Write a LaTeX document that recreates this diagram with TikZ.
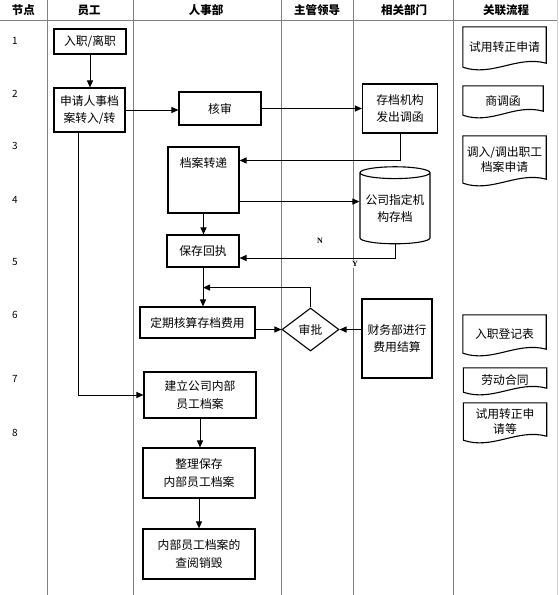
\documentclass[tikz,border=0pt]{standalone}
\usepackage{fontspec}
\setmainfont{Noto Sans CJK SC}
\newfontfamily\latinfont{Liberation Serif}
\usepackage{xcolor}
\usetikzlibrary{calc,shapes.geometric,arrows.meta}
\definecolor{lanegray}{RGB}{128,128,128}

% document shape with a wavy bottom edge, drawn round a node
\newcommand\wavedoc[1]{\draw[line width=1.1pt] (#1.south west) -- (#1.north west) -- (#1.north east) -- ($(#1.south east)+(0,-4)$) .. controls ($(#1.south east)+(-29,-12)$) and ($(#1.south west)+(29,10)$) .. (#1.south west);}

\begin{document}
\begin{tikzpicture}[x=1pt,y=-1pt]
\tikzset{box/.style={draw, line width=1.1pt, align=center, inner sep=0pt, font=\fontsize{11.8}{17.5}\selectfont},
  hd/.style={font=\fontsize{11.5}{14}\selectfont\bfseries},
  num/.style={font=\fontsize{10}{12}\selectfont},
  doc/.style={align=center, inner sep=0pt, minimum width=83pt, font=\fontsize{11.8}{15.5}\selectfont},
  yn/.style={font=\latinfont\bfseries\fontsize{8}{10}\selectfont, inner sep=1pt},
  arr/.style={line width=1pt, -{Triangle[length=7pt,width=6pt]}},
  lane/.style={draw=lanegray, line width=0.9pt}};
\useasboundingbox (0,0) rectangle (558,595);
% lanes
\draw[lane] (0,20) -- (558,20);
\foreach \x in {47,133,281,353,453} \draw[lane] (\x,0) -- (\x,595);
\draw[lane, draw=lanegray!35] (557,0) -- (557,595);
% header
\node [hd] (h1) at (23.5,10) {节点};
\node [hd] (h2) at (89,10) {员工};
\node [hd] (h3) at (206,10) {人事部};
\node [hd] (h4) at (317,10) {主管领导};
\node [hd] (h5) at (404,10) {相关部门};
\node [hd] (h6) at (506,10) {关联流程};
% row numbers
\node [num] (r1) at (15,41) {1};
\node [num] (r2) at (15,94) {2};
\node [num] (r3) at (15,146) {3};
\node [num] (r4) at (15,200) {4};
\node [num] (r5) at (15,262) {5};
\node [num] (r6) at (15,315) {6};
\node [num] (r7) at (15,379) {7};
\node [num] (r8) at (15,433) {8};
% steps
\node [box, minimum width=72pt, minimum height=25pt] (ru) at (90,41.5) {入职/离职};
\node [box, minimum width=71pt, minimum height=44pt] (sq) at (89.5,110) {申请人事档\\案转入/转};
\node [box, minimum width=82pt, minimum height=33pt] (hs) at (220,108.5) {核审};
\node [box, minimum width=75pt, minimum height=49pt] (cd) at (400,108.5) {存档机构\\发出调函};
\node [box, minimum width=71pt, text height=20pt, text depth=46pt] (dz) at (203.5,180) {档案转递};
\node [box, cylinder, shape border rotate=90, aspect=0.2, minimum width=70pt, minimum height=77pt] (cyl) at (395,208.5) {公司指定机\\构存档};
\node [box, minimum width=72pt, minimum height=32pt] (bh) at (203,251) {保存回执};
\node [box, minimum width=115pt, minimum height=31pt] (dq) at (197.5,322.5) {定期核算存档费用};
\node [box, diamond, minimum width=57pt, minimum height=43pt] (sp) at (310.5,329.5) {审批};
\node [box, minimum width=70pt, minimum height=79pt] (cw) at (397,338.5) {财务部进行\\费用结算};
\node [box, minimum width=112pt, minimum height=46pt] (jl) at (200,395) {建立公司内部\\员工档案};
\node [box, minimum width=112pt, minimum height=50pt] (zl) at (199,473) {整理保存\\内部员工档案};
\node [box, minimum width=112pt, minimum height=50pt] (cy) at (199,554) {内部员工档案的\\查阅销毁};
% related forms
\node [doc, minimum height=40pt] (d1) at (504.5,47) {试用转正申请};
\node [doc, minimum width=80pt, minimum height=29pt] (d2) at (503,100.5) {商调函};
\node [doc, minimum height=47pt] (d3) at (504.5,159.5) {调入/调出职工\\档案申请};
\node [doc, minimum height=38pt] (d4) at (504.5,334) {入职登记表};
\node [doc, minimum height=24pt] (d5) at (505,380) {劳动合同};
\node [doc, minimum height=37pt] (d6) at (505,421.5) {试用转正申\\请等};
\wavedoc{d1}
\wavedoc{d2}
\wavedoc{d3}
\wavedoc{d4}
\wavedoc{d5}
\wavedoc{d6}
% flow
\coordinate (dzr) at ($(dz.south east)+(0,-12)$);
\draw [arr] (ru.south) -- (ru.south |- sq.north);
\draw [arr] (sq.east) -- (sq.east -| hs.west);
\draw [arr] (hs.east) -- (hs.east -| cd.west);
\draw [arr] (cd.south) |- ($(dz.north east)+(0,14)$);
\draw [arr] (dzr) -- (dzr -| cyl.west);
\draw [arr] (dz.south) -- (dz.south |- bh.north);
\draw [arr] (cyl.south) |- ($(bh.east)+(0,7)$);
\draw [arr] (bh.south) -- (bh.south |- dq.north);
\draw [arr] (sp.north) |- ($(bh.south)+(0,20)$);
\draw [arr] (dq.east |- sp.west) -- (sp.west);
\draw [arr] (cw.west |- sp.east) -- (sp.east);
\draw [arr] ($(sq.south west)+(25,0)$) |- (jl.west);
\draw [arr] (jl.south) -- (jl.south |- zl.north);
\draw [arr] (zl.south) -- (zl.south |- cy.north);
\node [yn] (n) at (320,241) {N};
\node [yn, fill=white] (y) at (355,264) {Y};
\end{tikzpicture}
\end{document}
